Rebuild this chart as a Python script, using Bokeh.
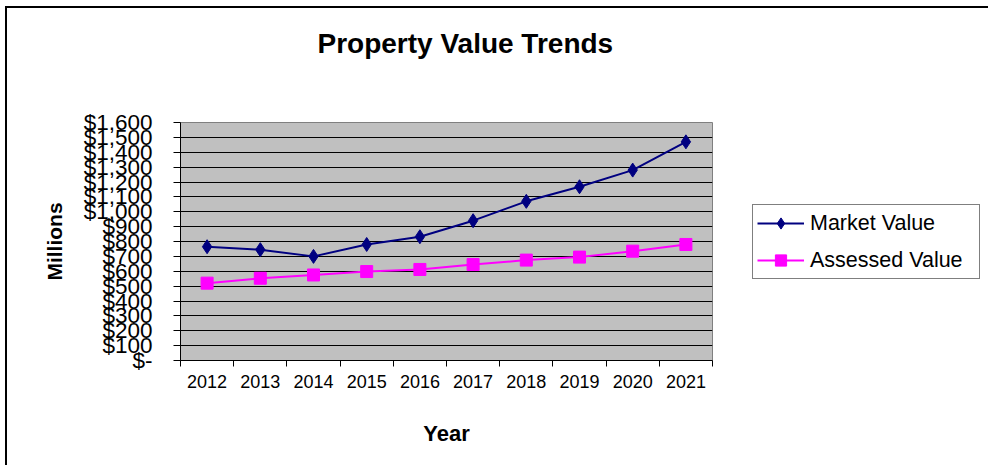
from bokeh.plotting import figure
from bokeh.models import Range1d, FixedTicker, Legend, LegendItem, Title
from bokeh.embed import file_html
from bokeh.resources import INLINE

# ---- data ----
years = [2012, 2013, 2014, 2015, 2016, 2017, 2018, 2019, 2020, 2021]
market_value = [765, 745, 700, 780, 832, 940, 1070, 1168, 1280, 1470]
assessed_value = [520, 553, 575, 598, 612, 645, 675, 695, 735, 780]
y_ticks = [0, 100, 200, 300, 400, 500, 600, 700, 800, 900,
           1000, 1100, 1200, 1300, 1400, 1500, 1600]
y_tick_labels = ["$-", "$100", "$200", "$300", "$400", "$500", "$600", "$700",
                 "$800", "$900", "$1,000", "$1,100", "$1,200", "$1,300",
                 "$1,400", "$1,500", "$1,600"]
x_boundaries = [2011.5, 2012.5, 2013.5, 2014.5, 2015.5, 2016.5, 2017.5,
                2018.5, 2019.5, 2020.5, 2021.5]

FONT = "Liberation Sans"

p = figure(frame_width=532, frame_height=238, output_backend="svg", toolbar_location=None,
           x_range=Range1d(2011.5, 2021.5), y_range=Range1d(0, 1600),
           min_border_left=173, min_border_right=275,
           min_border_top=114, min_border_bottom=105)

# outer chart-area border (like the spreadsheet chart object frame)
p.styles = {"border-top": "2px solid black", "border-left": "2px solid black",
            "border-right": "1px solid #c8c8c8",
            "margin-left": "5px", "margin-top": "6px"}

p.background_fill_color = "#C0C0C0"
p.border_fill_color = "white"
p.outline_line_color = "#808080"
p.outline_line_width = 1

# title (a thin spacer title sits between the real title and the frame)
p.title = None
spacer = Title(text=" ", text_font_size="1px", standoff=56, text_color="white")
p.add_layout(spacer, "above")
title = Title(text="Property Value Trends", align="left", offset=137, standoff=10,
              text_font=FONT, text_font_size="28px", text_font_style="bold",
              text_color="black")
p.add_layout(title, "above")

# grid
p.xgrid.visible = False
p.ygrid.grid_line_color = "black"
p.ygrid.grid_line_width = 1

# y axis
p.yaxis.ticker = FixedTicker(ticks=y_ticks)
p.yaxis.major_label_overrides = dict(zip(y_ticks, y_tick_labels))
p.yaxis.major_label_text_font = FONT
p.yaxis.major_label_text_font_size = "22.5px"
p.yaxis.major_label_text_color = "black"
p.yaxis.major_tick_out = 7
p.yaxis.major_tick_in = 0
p.yaxis.minor_tick_out = 0
p.yaxis.minor_tick_in = 0
p.yaxis.major_label_standoff = 21
p.yaxis.axis_line_color = "black"
p.yaxis.major_tick_line_color = "black"
p.yaxis.axis_label = "Millions"
p.yaxis.axis_label_text_font = FONT
p.yaxis.axis_label_text_font_size = "21px"
p.yaxis.axis_label_text_font_style = "bold"
p.yaxis.axis_label_text_color = "black"
p.yaxis.axis_label_standoff = 15

# x axis
p.xaxis.ticker = FixedTicker(ticks=years, minor_ticks=x_boundaries)
p.xaxis.major_label_overrides = {y: str(y) for y in years}
p.xaxis.major_label_text_font = FONT
p.xaxis.major_label_text_font_size = "18px"
p.xaxis.major_label_text_color = "black"
p.xaxis.major_tick_out = 0
p.xaxis.major_tick_in = 0
p.xaxis.minor_tick_out = 6
p.xaxis.minor_tick_in = 0
p.xaxis.minor_tick_line_color = "black"
p.xaxis.major_label_standoff = 8
p.xaxis.axis_line_color = "black"
p.xaxis.axis_label = "Year"
p.xaxis.axis_label_text_font = FONT
p.xaxis.axis_label_text_font_size = "22px"
p.xaxis.axis_label_text_font_style = "bold"
p.xaxis.axis_label_text_color = "black"
p.xaxis.axis_label_standoff = 30

# series
mv_line = p.line(years, market_value, line_color="#000080", line_width=2)
mv_pts = p.scatter(years, market_value, marker="diamond", size=14,
                   fill_color="#000080", line_color="#000080")
av_line = p.line(years, assessed_value, line_color="#FF00FF", line_width=2)
av_pts = p.scatter(years, assessed_value, marker="square", size=12,
                   fill_color="#FF00FF", line_color="#FF00FF")

legend = Legend(items=[
    LegendItem(label="Market Value", renderers=[mv_line, mv_pts]),
    LegendItem(label="Assessed Value", renderers=[av_line, av_pts]),
], location=(40, 81), margin=0, padding=4, spacing=9,
    glyph_width=47, glyph_height=28, label_height=28, label_width=165,
    label_standoff=6,
    label_text_font=FONT, label_text_font_size="21.5px", label_text_color="black",
    border_line_color="black", border_line_width=1,
    background_fill_color="white", background_fill_alpha=1.0)
p.add_layout(legend, "right")

open("out.html", "w").write(file_html(p, INLINE))
